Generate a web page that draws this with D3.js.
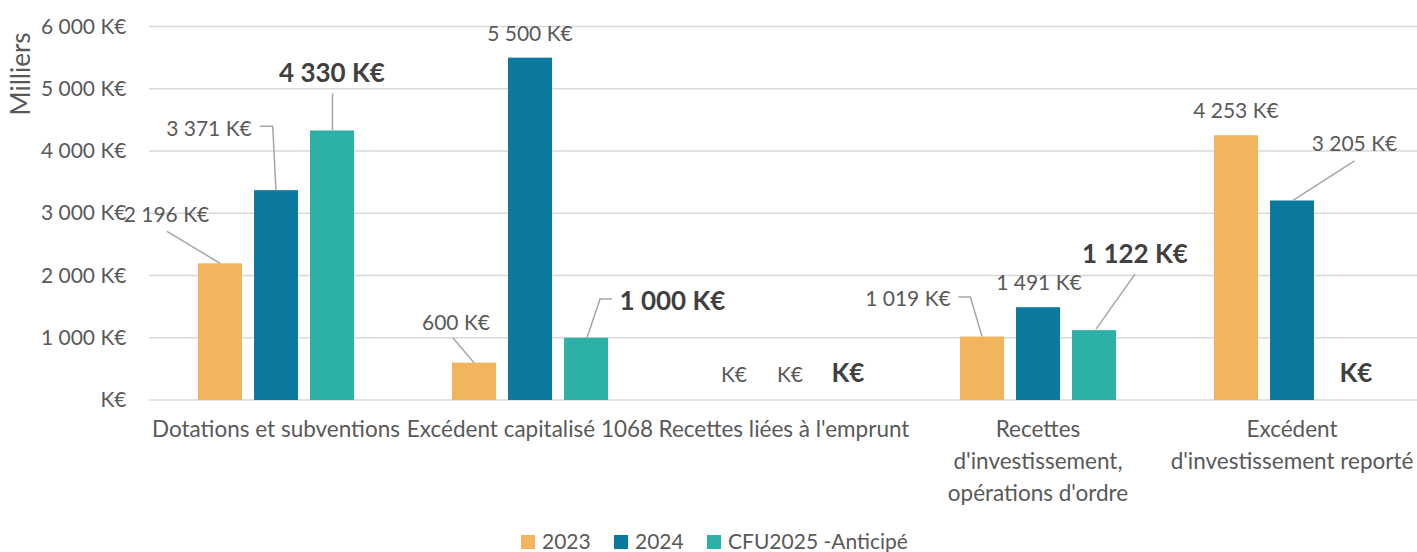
<!DOCTYPE html>
<html>
<head>
<meta charset="utf-8">
<script src="https://cdn.jsdelivr.net/npm/d3@7"></script>
<style>
  html, body { margin: 0; padding: 0; background: #ffffff; }
  svg { display: block; }
  text { font-family: Lato, "Open Sans", sans-serif; }
</style>
</head>
<body>
<svg id="chart" width="1417" height="552"></svg>
<script>
// ---- DATA ----
const categories = [
  "Dotations et subventions",
  "Excédent capitalisé 1068",
  "Recettes liées à l'emprunt",
  "Recettes\nd'investissement,\nopérations d'ordre",
  "Excédent\nd'investissement reporté"
];
const seriesNames = ["2023", "2024", "CFU2025 -Anticipé"];
const values2023 = [2196, 600, 0, 1019, 4253];
const values2024 = [3371, 5500, 0, 1491, 3205];
const valuesCFU2025 = [4330, 1000, 0, 1122, 0];
const yTicks = [0, 1000, 2000, 3000, 4000, 5000, 6000];
const yTitle = "Milliers";

// ---- STYLE / LAYOUT ----
const colors = ["#F2B55E", "#0B7A9E", "#2DB1A6"];
const boldSeries = [false, false, true];
// label offsets relative to bar top centre, and leader polylines (same reference)
const labelLayout = [
  [ {l:[-53.5,-50], p:[[-53,-32],[0,0]]},
    {l:[-18,-41.6], p:[[-21,-24.6],[0,0]]},
    {l:[6,-27]},
    {l:[-74,-38.6], p:[[-23.5,-39.6],[-11.6,-39.6],[0,0]]},
    {l:[0,-25.3]} ],
  [ {l:[-67,-63], p:[[-16,-64],[-3.3,-64],[0,0]]},
    {l:[0,-25.6]},
    {l:[6,-27]},
    {l:[1,-25.2]},
    {l:[62.5,-57.5], p:[[62.5,-39.5],[1,0]]} ],
  [ {l:[0,-58.5], p:[[0.5,-37],[0.5,0]]},
    {l:[86.5,-37.75], p:[[26,-38.75],[14,-38.75],[1,0]]},
    {l:[8,-28]},
    {l:[41,-77], p:[[41,-56],[2,-1]]},
    {l:[8,-28]} ]
];

const svg = d3.select("#chart");
const plotLeft = 149, plotRight = 1419, plotTop = 26.5, plotBottom = 400;

const x0 = d3.scaleBand().domain(categories).range([plotLeft, plotRight]).paddingInner(0).paddingOuter(0);
const x1 = d3.scaleBand().domain(seriesNames).range([0, x0.bandwidth()]).paddingInner(12/56).paddingOuter(0.875);
const y = d3.scaleLinear().domain([0, 6000]).range([plotBottom, plotTop]);

const fmt = v => v === 0 ? "K€" : d3.format(",")(v).replace(/,/g, " ") + " K€";

// gridlines
svg.append("g").selectAll("line").data(yTicks).join("line")
  .attr("x1", plotLeft).attr("x2", 1417)
  .attr("y1", d => y(d)).attr("y2", d => y(d))
  .attr("stroke", "#D9D9D9").attr("stroke-width", 1.5);

// y axis labels
const yAxis = d3.axisLeft(y).tickValues(yTicks).tickSize(0).tickPadding(0)
  .tickFormat(fmt);
const gy = svg.append("g").attr("transform", `translate(126.5,0)`).call(yAxis);
gy.select(".domain").remove();
gy.selectAll("text").attr("font-size", 21).attr("fill", "#595959")
  .style("font-family", "Lato, sans-serif");

// y title
svg.append("text")
  .attr("transform", `translate(19.5,74) rotate(-90)`)
  .attr("text-anchor", "middle")
  .attr("dominant-baseline", "central")
  .attr("font-size", 26).attr("fill", "#595959")
  .text(yTitle);

// bars
const seriesData = [values2023, values2024, valuesCFU2025];
const barData = [];
seriesData.forEach((vals, si) => vals.forEach((v, ci) => {
  barData.push({si, ci, v, cat: categories[ci], ser: seriesNames[si]});
}));

svg.append("g").selectAll("rect").data(barData.filter(d => d.v > 0)).join("rect")
  .attr("x", d => x0(d.cat) + x1(d.ser))
  .attr("width", x1.bandwidth())
  .attr("y", d => y(d.v))
  .attr("height", d => y(0) - y(d.v))
  .attr("fill", d => colors[d.si]);

// leaders
const line = d3.line();
svg.append("g").selectAll("path").data(barData.filter(d => labelLayout[d.si][d.ci].p)).join("path")
  .attr("d", d => {
    const bx = x0(d.cat) + x1(d.ser) + x1.bandwidth() / 2, by = y(d.v);
    return line(labelLayout[d.si][d.ci].p.map(p => [bx + p[0], by + p[1]]));
  })
  .attr("fill", "none").attr("stroke", "#A6A6A6").attr("stroke-width", 1.5);

// data labels
svg.append("g").selectAll("text").data(barData).join("text")
  .attr("x", d => x0(d.cat) + x1(d.ser) + x1.bandwidth() / 2 + labelLayout[d.si][d.ci].l[0])
  .attr("y", d => y(d.v) + labelLayout[d.si][d.ci].l[1])
  .attr("text-anchor", "middle")
  .attr("dominant-baseline", "central")
  .attr("font-size", d => boldSeries[d.si] ? 26 : 21)
  .attr("font-weight", d => boldSeries[d.si] ? "bold" : "normal")
  .attr("fill", d => boldSeries[d.si] ? "#404040" : "#595959")
  .text(d => fmt(d.v));

// category labels
const cg = svg.append("g").selectAll("text").data(categories).join("text")
  .attr("x", d => x0(d) + x0.bandwidth() / 2)
  .attr("y", 437)
  .attr("text-anchor", "middle")
  .attr("font-size", 22.5).attr("fill", "#595959");
cg.selectAll("tspan").data(d => d.split("\n")).join("tspan")
  .attr("x", function() { return d3.select(this.parentNode).attr("x"); })
  .attr("dy", (d, i) => i === 0 ? 0 : 32)
  .text(d => d);

// legend
const legendX = [521, 614, 707];
const lg = svg.append("g").selectAll("g").data(seriesNames).join("g")
  .attr("transform", (d, i) => `translate(${legendX[i]},535)`);
lg.append("rect").attr("width", 14).attr("height", 14).attr("fill", (d, i) => colors[i]);
lg.append("text").attr("x", 21).attr("y", 14)
  .attr("font-size", 21).attr("fill", "#595959").text(d => d);
</script>
</body>
</html>
